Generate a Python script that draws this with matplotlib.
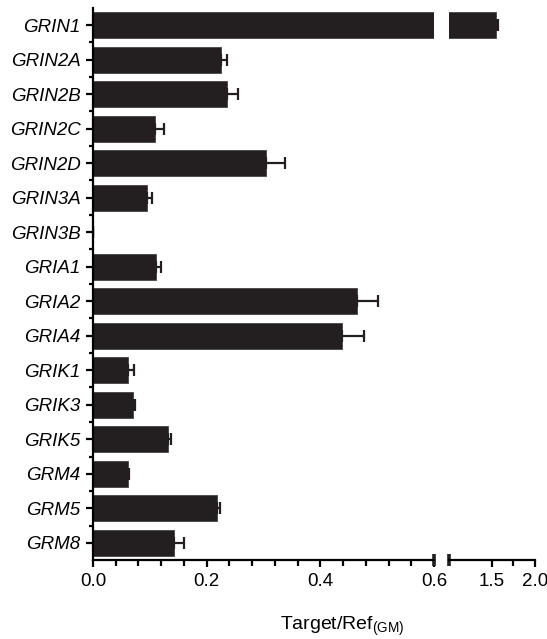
import numpy as np
import matplotlib
matplotlib.use('Agg')
import matplotlib.pyplot as plt
from matplotlib.ticker import MultipleLocator, FixedLocator

plt.rcParams['font.family'] = ['Liberation Sans', 'DejaVu Sans']

# values
genes = ['GRIN1', 'GRIN2A', 'GRIN2B', 'GRIN2C', 'GRIN2D', 'GRIN3A', 'GRIN3B',
         'GRIA1', 'GRIA2', 'GRIA4', 'GRIK1', 'GRIK3', 'GRIK5', 'GRM4', 'GRM5', 'GRM8']
means = [1.55, 0.226, 0.235, 0.109, 0.304, 0.095, 0.0,
         0.110, 0.464, 0.439, 0.061, 0.071, 0.132, 0.062, 0.218, 0.142]
errs = [0.02, 0.010, 0.020, 0.016, 0.034, 0.008, 0.0,
        0.010, 0.038, 0.038, 0.012, 0.003, 0.006, 0.002, 0.006, 0.018]

left_ticks = [0.0, 0.2, 0.4, 0.6]
right_ticks = [1.5, 2.0]

barcol = '#231f20'
lw = 1.6
fs = 13.5

fig = plt.figure(figsize=(5.47, 6.39), dpi=100)
ax1 = fig.add_axes([0.170, 0.1236, 0.6234, 0.864])
ax2 = fig.add_axes([0.8208, 0.1236, 0.1572, 0.864])

y = np.arange(len(genes))
zero_err = np.zeros(len(errs))
for ax in (ax1, ax2):
    ax.barh(y, means, height=0.75, color=barcol, edgecolor='#444444', linewidth=0.6)
    ax.errorbar(means, y, xerr=[zero_err, errs], fmt='none', ecolor=barcol,
                elinewidth=lw, capsize=4.5, capthick=lw)
    ax.set_ylim(len(genes) - 0.5, -0.5)
    for s in ('top', 'right'):
        ax.spines[s].set_visible(False)
    ax.spines['bottom'].set_linewidth(lw)
    ax.spines['left'].set_linewidth(lw)
    ax.tick_params(axis='x', which='major', length=5, width=lw, labelsize=fs, pad=4)
    ax.tick_params(axis='x', which='minor', length=4, width=lw)

ax1.set_xlim(0, 0.6)
ax1.xaxis.set_major_locator(FixedLocator(left_ticks))
ax1.xaxis.set_minor_locator(MultipleLocator(0.04))
ax1.set_yticks(y)
ax1.set_yticklabels(genes, fontstyle='italic', fontsize=fs)
ax1.yaxis.set_minor_locator(FixedLocator(y[:-1] + 0.5))
ax1.tick_params(axis='y', which='major', length=5, width=lw, pad=4)
ax1.tick_params(axis='y', which='minor', length=3, width=lw)

ax2.set_xlim(1.0, 2.0)
ax2.xaxis.set_major_locator(FixedLocator(right_ticks))
ax2.xaxis.set_minor_locator(FixedLocator([1.75]))
ax2.spines['left'].set_visible(False)
ax2.set_yticks([])

# break caps at the ends of the split axis
ax1.plot([0.6], [0], marker='|', markersize=9, mew=2.6, color=barcol,
         transform=ax1.get_xaxis_transform(), clip_on=False)
ax2.plot([1.0], [0], marker='|', markersize=9, mew=2.6, color=barcol,
         transform=ax2.get_xaxis_transform(), clip_on=False)

fig.text(0.625, 0.014, 'Target/Ref$_{\\mathregular{(GM)}}$', ha='center',
         va='baseline', fontsize=14)

fig.savefig('out.png', dpi=100)
